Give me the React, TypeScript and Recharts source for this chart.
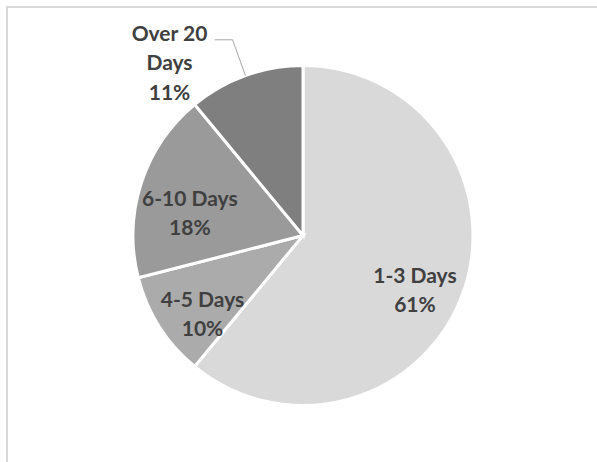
import { PieChart, Pie, Cell } from 'recharts';

const categories = ['1-3 Days', '4-5 Days', '6-10 Days', 'Over 20 Days'];
const shares = [61, 10, 18, 11];
const sliceColors = ['#d9d9d9', '#ababab', '#9a9a9a', '#7f7f7f'];
// labels Excel pushed outside the slice
const outsideLabels = ['Over 20 Days'];

const data = categories.map((name, i) => ({ name, value: shares[i] }));

const RAD = Math.PI / 180;
const FONT = 'Lato, "Open Sans", sans-serif';
const FS = 21;

function renderLabel(props: any) {
  const { cx, cy, midAngle, outerRadius, name, value } = props;
  const cos = Math.cos(-midAngle * RAD);
  const sin = Math.sin(-midAngle * RAD);
  const pct = `${Math.round(value)}%`;

  if (outsideLabels.includes(name)) {
    const sx = cx + outerRadius * cos;
    const sy = cy + outerRadius * sin;
    const ex = cx + (outerRadius + 38) * cos;
    const ey = cy + (outerRadius + 38) * sin;
    const hx = ex - 18;
    const cut = name.lastIndexOf(' ');
    const lines = [name.slice(0, cut), name.slice(cut + 1), pct];
    const tx = hx - 45;
    return (
      <g>
        <polyline
          points={`${sx},${sy} ${ex},${ey} ${hx},${ey}`}
          fill="none"
          stroke="#a6a6a6"
          strokeWidth={1}
        />
        <text
          x={tx}
          y={ey}
          textAnchor="middle"
          fill="#404040"
          fontFamily={FONT}
          fontWeight={700}
          fontSize={FS}
        >
          {lines.map((l, i) => (
            <tspan key={i} x={tx} dy={i === 0 ? 1 : 29.5}>
              {l}
            </tspan>
          ))}
        </text>
      </g>
    );
  }

  // first line sits on the label point, the percentage below it
  const r = outerRadius * 0.7;
  const x = cx + r * cos;
  const y = cy + r * sin;
  return (
    <text
      x={x}
      y={y}
      textAnchor="middle"
      fill="#404040"
      fontFamily={FONT}
      fontWeight={700}
      fontSize={FS}
    >
      <tspan x={x} dy={7.5}>
        {name}
      </tspan>
      <tspan x={x} dy={29}>
        {pct}
      </tspan>
    </text>
  );
}

export default function App() {
  return (
    <div style={{ position: 'absolute', left: 0, top: 0, width: 597, height: 462, overflow: 'hidden', background: '#fff' }}>
      <div
        style={{
          position: 'absolute',
          left: 6,
          top: 6,
          width: 620,
          height: 480,
          border: '2px solid #d9d9d9',
          boxSizing: 'border-box',
        }}
      />
      <div style={{ position: 'absolute', left: 0, top: 0 }}>
        <PieChart width={597} height={462} margin={{ top: 0, right: 0, bottom: 0, left: 0 }}>
          <Pie
            data={data}
            dataKey="value"
            nameKey="name"
            cx={303}
            cy={235.5}
            outerRadius={170}
            startAngle={90}
            endAngle={-270}
            stroke="#ffffff"
            strokeWidth={3}
            label={renderLabel}
            labelLine={false}
            isAnimationActive={false}
          >
            {data.map((d, i) => (
              <Cell key={d.name} fill={sliceColors[i]} />
            ))}
          </Pie>
        </PieChart>
      </div>
    </div>
  );
}
